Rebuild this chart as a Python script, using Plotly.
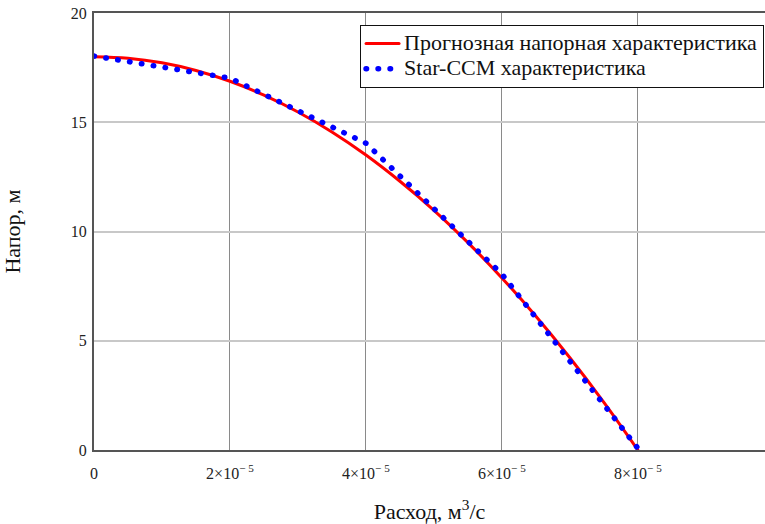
import plotly.graph_objects as go

# Predicted head curve (Q in m^3/s, H in m)
q_pred = [0.0, 0.5e-5, 1.0e-5, 1.5e-5, 2.0e-5, 2.5e-5, 3.0e-5, 3.5e-5, 4.0e-5,
          4.5e-5, 5.0e-5, 5.5e-5, 6.0e-5, 6.5e-5, 7.0e-5, 7.5e-5, 8.0e-5]
h_pred = [18.0, 17.93, 17.72, 17.37, 16.875, 16.24, 15.47, 14.555, 13.5,
          12.30, 10.97, 9.49, 7.875, 6.12, 4.22, 2.18, 0.0]

# Star-CCM results
q_ccm = [0.0, 2.0e-5, 4.0e-5, 6.0e-5, 8.0e-5]
h_ccm = [18.03, 17.02, 14.04, 8.05, 0.08]

x_tickvals = [0, 2e-5, 4e-5, 6e-5, 8e-5]
x_ticktext = ["0", "2×10<sup>− 5</sup>", "4×10<sup>− 5</sup>",
              "6×10<sup>− 5</sup>", "8×10<sup>− 5</sup>"]
y_tickvals = [0, 5, 10, 15, 20]

series_names = ["Прогнозная напорная характеристика", "Star-CCM характеристика"]

FONT = "Liberation Serif, Times New Roman, serif"


def big(s):
    return '<span style="font-size:22px">' + s + "</span>"


fig = go.Figure()
fig.add_trace(go.Scatter(
    x=q_pred, y=h_pred, mode="lines", line=dict(color="#ff0000", width=3, shape="spline"),
    name=big(series_names[0])))
fig.add_trace(go.Scatter(
    x=q_ccm, y=h_ccm, mode="lines", line=dict(color="#0000ff", width=5.5, dash="0.5px,11.5px"),
    name=big(series_names[1])))

fig.update_layout(
    width=765, height=524,
    margin=dict(l=94, r=0, t=13, b=74, autoexpand=False),
    paper_bgcolor="white", plot_bgcolor="white",
    font=dict(family=FONT, color="#222222", size=16),
    showlegend=True,
    legend=dict(
        x=0.3965, y=0.9725, xanchor="left", yanchor="top",
        bgcolor="white", bordercolor="#111111", borderwidth=1,
        font=dict(family=FONT, size=17, color="#111111"),
        tracegroupgap=0, itemwidth=33,
    ),
)
fig.update_xaxes(
    range=[0, 9.87e-5], tickvals=x_tickvals, ticktext=x_ticktext, automargin=False,
    showgrid=True, gridcolor="#8a8a8a", gridwidth=1,
    showline=True, linecolor="#555555", linewidth=2, mirror=True,
    ticks="", zeroline=False, ticklabelstandoff=8,
    tickfont=dict(family=FONT, size=16, color="#222222"),
    title=dict(text="Расход, м<sup>3</sup>/с", font=dict(family=FONT, size=22, color="#111111"), standoff=34),
)
fig.update_yaxes(
    range=[0, 20], tickvals=y_tickvals, automargin=False,
    showgrid=True, gridcolor="#c8c8c8", gridwidth=2,
    showline=True, linecolor="#555555", linewidth=2,
    ticks="", zeroline=False, ticklabelstandoff=2, ticklabeloverflow="allow",
    tickfont=dict(family=FONT, size=16, color="#222222"),
    title=dict(text="Напор, м", font=dict(family=FONT, size=22, color="#111111"), standoff=68),
)

post = ("document.body.style.margin='0';"
        "var gd=document.getElementById('{plot_id}');"
        "function rc(){gd.querySelectorAll('path.js-line').forEach(function(p){p.style.strokeLinecap='round';});}"
        "rc();gd.on('plotly_afterplot',rc);")
fig.write_html("out.html", post_script=post, config={"displayModeBar": False})
